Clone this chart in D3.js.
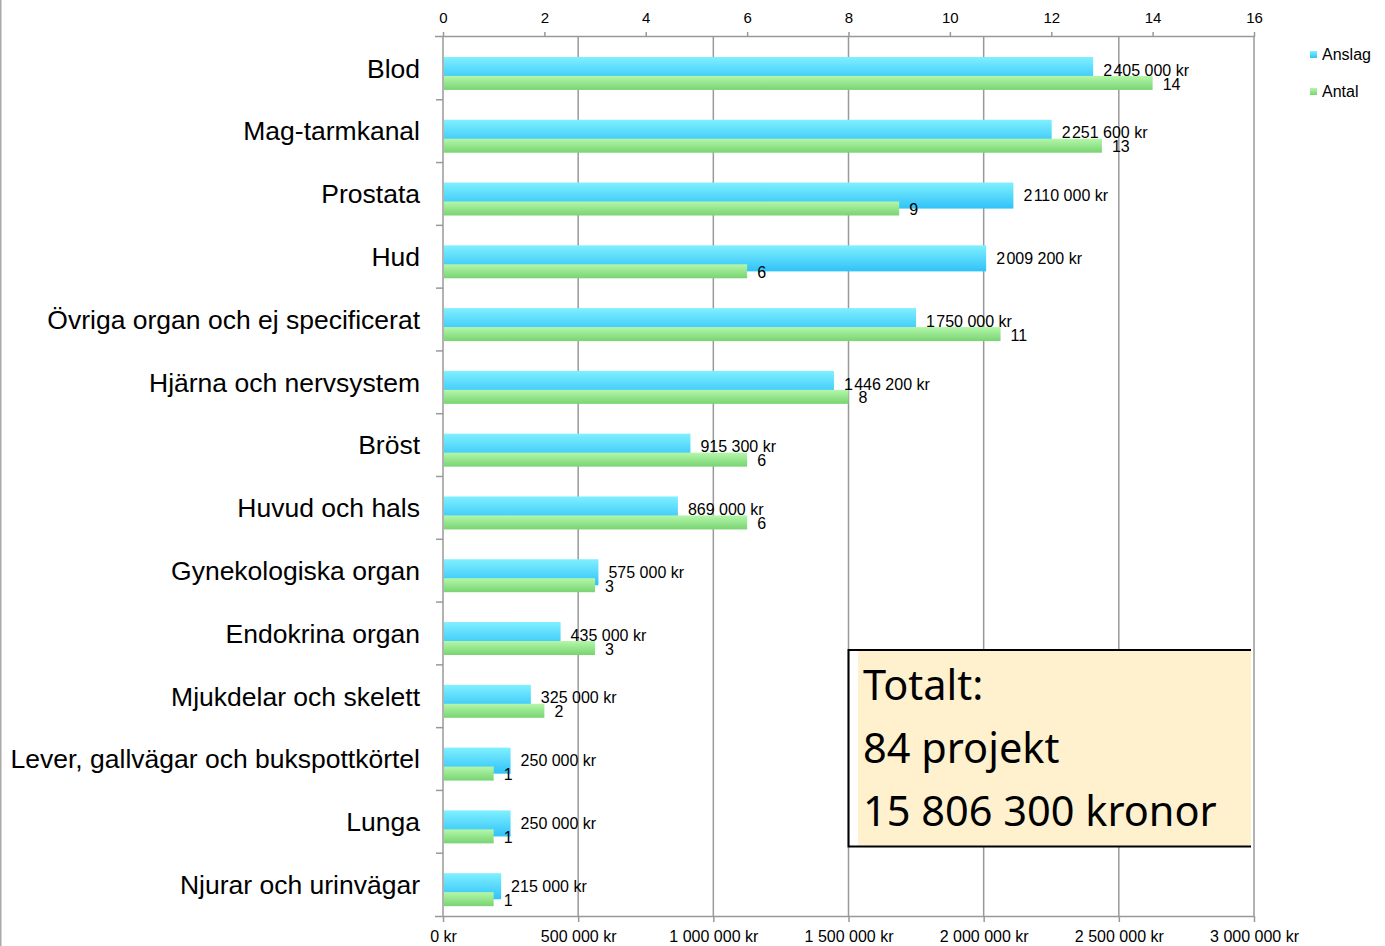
<!DOCTYPE html>
<html>
<head>
<meta charset="utf-8">
<script src="https://cdn.jsdelivr.net/npm/d3@7"></script>
<style>
  body { margin: 0; background: #fff; }
  svg { display: block; font-family: "Liberation Sans", Arial, sans-serif; }
</style>
</head>
<body>
<div id="chart-container"></div>
<script>
// chart data
const categories = ["Blod", "Mag-tarmkanal", "Prostata", "Hud", "Övriga organ och ej specificerat",
  "Hjärna och nervsystem", "Bröst", "Huvud och hals", "Gynekologiska organ", "Endokrina organ",
  "Mjukdelar och skelett", "Lever, gallvägar och bukspottkörtel", "Lunga", "Njurar och urinvägar"];
const anslag = [2405000, 2251600, 2110000, 2009200, 1750000, 1446200, 915300, 869000, 575000, 435000, 325000, 250000, 250000, 215000];
const antal = [14, 13, 9, 6, 11, 8, 6, 6, 3, 3, 2, 1, 1, 1];
const anslagTicks = [0, 500000, 1000000, 1500000, 2000000, 2500000, 3000000];
const antalTicks = [0, 2, 4, 6, 8, 10, 12, 14, 16];
const seriesNames = ["Anslag", "Antal"];
const totalLines = ["Totalt:", "84 projekt", "15 806 300 kronor"];

document.addEventListener("DOMContentLoaded", function() {
    const width = 1385, height = 946;
    const left = 443, right = 1254, top = 37, bottom = 916;

    const svg = d3.select("#chart-container").append("svg")
        .attr("width", width)
        .attr("height", height);

    // gradients for bars
    const defs = svg.append("defs");
    function grad(id, c1, c2) {
        const g = defs.append("linearGradient").attr("id", id)
            .attr("x1", 0).attr("y1", 0).attr("x2", 0).attr("y2", 1);
        g.append("stop").attr("offset", "0%").attr("stop-color", c1);
        g.append("stop").attr("offset", "100%").attr("stop-color", c2);
    }
    grad("gBlue", "#80F0FF", "#30C2F8");
    grad("gGreen", "#B4F7AA", "#78D472");

    // page border on the left
    svg.append("line").attr("x1", 0.75).attr("x2", 0.75).attr("y1", 0).attr("y2", height)
        .attr("stroke", "#aaa").attr("stroke-width", 1.5);

    const x = d3.scaleLinear().domain([0, 3000000]).range([left, right]);
    const x2 = d3.scaleLinear().domain([0, 16]).range([left, right]);
    const y = d3.scaleBand().domain(categories).range([top, bottom]);
    const bw = y.bandwidth();

    // vertical gridlines
    svg.append("g").selectAll("line")
        .data(anslagTicks.slice(1))
        .enter().append("line")
        .attr("x1", d => x(d)).attr("x2", d => x(d))
        .attr("y1", top).attr("y2", bottom)
        .attr("stroke", "#999").attr("stroke-width", 1.5);

    // bottom axis
    const fmtKr = d => d3.format(",")(d).replace(/,/g, " ") + " kr";
    const bAxis = svg.append("g")
        .attr("transform", `translate(0,${bottom})`)
        .call(d3.axisBottom(x).tickValues(anslagTicks).tickFormat(fmtKr).tickSizeOuter(0).tickSize(6));
    bAxis.select(".domain").attr("stroke", "#999").attr("stroke-width", 1.5).attr("d", `M${left - 8},0.5H${right}`);
    bAxis.selectAll(".tick line").attr("stroke", "#999").attr("stroke-width", 1.5);
    bAxis.selectAll("text").attr("font-size", 16).attr("fill", "#000").attr("dy", "1.05em");

    // top axis
    const tAxis = svg.append("g")
        .attr("transform", `translate(0,${top})`)
        .call(d3.axisTop(x2).tickValues(antalTicks).tickSizeOuter(0).tickSize(5));
    tAxis.select(".domain").attr("stroke", "#999").attr("stroke-width", 1.5).attr("d", `M${left - 8},-0.5H${right}`);
    tAxis.selectAll(".tick line").attr("stroke", "#999").attr("stroke-width", 1.5);
    tAxis.selectAll("text").attr("font-size", 15).attr("fill", "#000").attr("y", -19).attr("dy", "0.35em");

    // left axis line with category ticks at band edges
    svg.append("line").attr("x1", left).attr("x2", left).attr("y1", top).attr("y2", bottom)
        .attr("stroke", "#999").attr("stroke-width", 1.5);
    svg.append("g").selectAll("line")
        .data(categories.slice(1))
        .enter().append("line")
        .attr("x1", left - 7).attr("x2", left)
        .attr("y1", d => y(d)).attr("y2", d => y(d))
        .attr("stroke", "#999").attr("stroke-width", 1.5);

    // category labels
    svg.append("g").selectAll("text")
        .data(categories)
        .enter().append("text")
        .attr("x", 420)
        .attr("y", d => y(d) + bw / 2)
        .attr("dy", "0.35em")
        .attr("text-anchor", "end")
        .attr("font-size", 26.5)
        .attr("fill", "#000")
        .text(d => d);

    // bars
    const rows = categories.map((c, i) => ({ c, a: anslag[i], n: antal[i] }));
    const bY = bw * 0.318, bH = bw * 0.415;
    const gY = bw * 0.62, gH = bw * 0.223;

    svg.append("g").selectAll("rect")
        .data(rows)
        .enter().append("rect")
        .attr("x", left + 1)
        .attr("y", d => y(d.c) + bY)
        .attr("width", d => x(d.a) - left - 1)
        .attr("height", bH)
        .attr("fill", "url(#gBlue)");

    svg.append("g").selectAll("rect")
        .data(rows)
        .enter().append("rect")
        .attr("x", left + 1)
        .attr("y", d => y(d.c) + gY)
        .attr("width", d => x2(d.n) - left - 1)
        .attr("height", gH)
        .attr("fill", "url(#gGreen)");

    // value labels (million group set tight, as in the original)
    const fmtVal = d => {
        const parts = d3.format(",")(d).split(",");
        const head = parts.length > 2 ? parts[0] + "\u200a" + parts[1] : parts[0];
        return head + " " + parts[parts.length - 1] + " kr";
    };
    svg.append("g").selectAll("text")
        .data(rows)
        .enter().append("text")
        .attr("x", d => x(d.a) + 10)
        .attr("y", d => y(d.c) + bY + bH / 2)
        .attr("dy", "0.35em")
        .attr("font-size", 16)
        .attr("fill", "#000")
        .text(d => fmtVal(d.a));

    svg.append("g").selectAll("text")
        .data(rows)
        .enter().append("text")
        .attr("x", d => x2(d.n) + 10)
        .attr("y", d => y(d.c) + gY + gH / 2 + 1)
        .attr("dy", "0.35em")
        .attr("font-size", 16)
        .attr("fill", "#000")
        .text(d => d.n);

    // legend
    const legend = svg.selectAll(".legend")
        .data(seriesNames)
        .enter().append("g")
        .attr("class", "legend")
        .attr("transform", (d, i) => `translate(1310,${54 + i * 37})`);
    legend.append("rect")
        .attr("x", 0).attr("y", -3)
        .attr("width", 7).attr("height", 7)
        .attr("fill", (d, i) => i === 0 ? "url(#gBlue)" : "url(#gGreen)");
    legend.append("text")
        .attr("x", 12).attr("y", 0)
        .attr("dy", "0.35em")
        .attr("font-size", 16)
        .attr("fill", "#000")
        .text(d => d);

    // total box
    const box = svg.append("g");
    box.append("rect")
        .attr("x", 858).attr("y", 651).attr("width", 393).attr("height", 195)
        .attr("fill", "#FFF0CE");
    box.append("path")
        .attr("d", "M1251,650H848.5V846.5H1251")
        .attr("fill", "none").attr("stroke", "#000").attr("stroke-width", 2);
    box.selectAll("text")
        .data(totalLines)
        .enter().append("text")
        .attr("x", 863)
        .attr("y", (d, i) => 700 + i * 63)
        .attr("font-family", "'Noto Sans', 'Open Sans', sans-serif")
        .attr("font-size", 41.5)
        .attr("fill", "#000")
        .text(d => d);
});
</script>
</body>
</html>
